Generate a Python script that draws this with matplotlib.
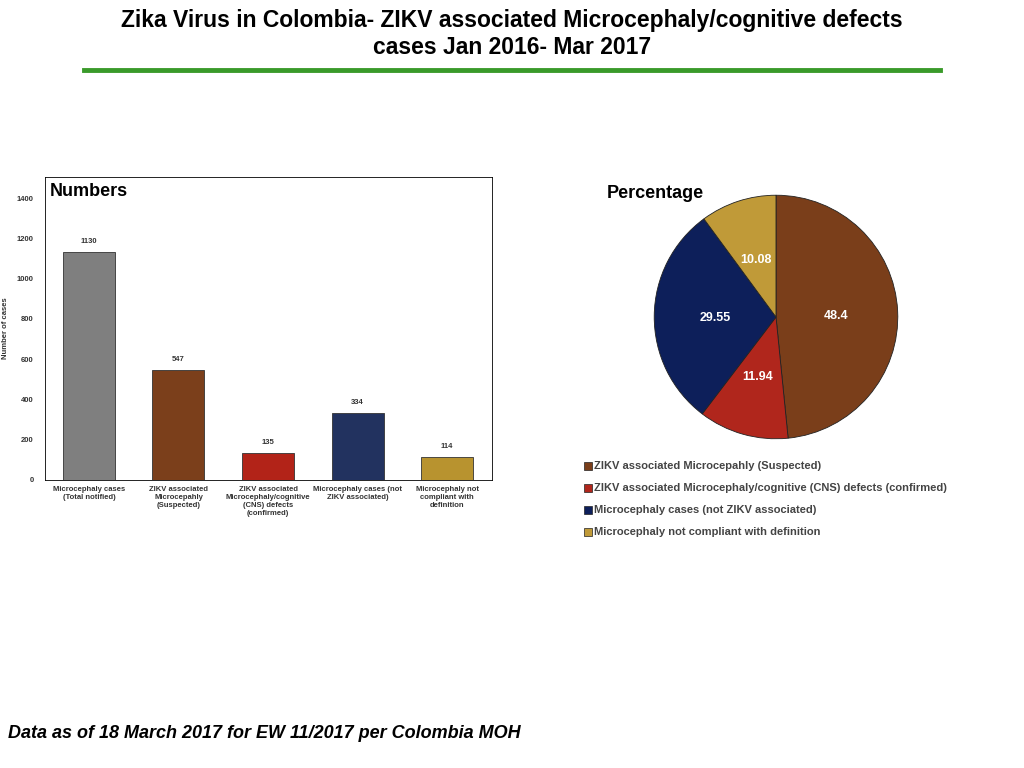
import matplotlib.pyplot as plt
from matplotlib.patches import Rectangle

plt.rcParams['font.family'] = ['Liberation Sans', 'DejaVu Sans']

bar_labels = ['Microcephaly cases\n(Total notified)', 'ZIKV associated\nMicrocepahly\n(Suspected)',
              'ZIKV associated\nMicrocephaly/cognitive\n(CNS) defects\n(confirmed)',
              'Microcephaly cases (not\nZIKV associated)', 'Microcephaly not\ncompliant with\ndefinition']
bar_values = [1130, 547, 135, 334, 114]
bar_colors = ['#7f7f7f', '#7b3f1b', '#b22318', '#22325f', '#b8932f']

pie_labels = ['ZIKV associated Microcepahly (Suspected)',
              'ZIKV associated Microcephaly/cognitive (CNS) defects (confirmed)',
              'Microcephaly cases (not ZIKV associated)',
              'Microcephaly not compliant with definition']
pie_values = [48.4, 11.94, 29.55, 10.08]
pie_colors = ['#7a3e1a', '#b0261c', '#0d1f5a', '#c09a38']

W, H = 1024, 768
fig = plt.figure(figsize=(W / 100, H / 100), dpi=100)

fig.text(0.5, 1 - 20 / H, 'Zika Virus in Colombia- ZIKV associated Microcephaly/cognitive defects',
         ha='center', va='center', fontsize=16.5, fontweight='bold')
fig.text(0.5, 1 - 47 / H, 'cases Jan 2016- Mar 2017', ha='center', va='center', fontsize=16.5, fontweight='bold')
fig.add_artist(plt.Line2D([84 / W, 940 / W], [1 - 70 / H, 1 - 70 / H], color='#3a9a2a', lw=3.5))
fig.text(8 / W, 1 - 733 / H, 'Data as of 18 March 2017 for EW 11/2017 per Colombia MOH',
         ha='left', va='center', fontsize=13, fontweight='bold', style='italic')

# bar chart
ax = fig.add_axes([45 / W, 1 - 480 / H, 447 / W, 303 / H])
x = range(len(bar_values))
ax.bar(x, bar_values, width=0.58, color=bar_colors, edgecolor='#333333', linewidth=0.6)
for i, v in zip(x, bar_values):
    ax.text(i, v + 35, str(v), ha='center', va='bottom', fontsize=5.5, fontweight='bold', color='#333333')
ax.set_xlim(-0.49, 4.5)
ax.set_ylim(0, 1505)
ax.set_yticks(range(0, 1401, 200))
ax.tick_params(axis='y', labelsize=5.5, length=0, pad=8)
ax.set_xticks(list(x))
ax.set_xticklabels(bar_labels, fontsize=5.5, fontweight='bold', color='#333333')
ax.tick_params(axis='x', length=0, pad=4)
for lbl in ax.get_yticklabels():
    lbl.set_fontweight('bold')
    lbl.set_color('#333333')
ax.set_ylabel('Number of cases', fontsize=5.5, fontweight='bold', color='#333333', labelpad=6)
ax.text(0.01, 0.98, 'Numbers', transform=ax.transAxes, ha='left', va='top', fontsize=13, fontweight='bold')
for s in ax.spines.values():
    s.set_linewidth(0.6)

# pie chart
cx, cy, r = 776, 317, 123
pax = fig.add_axes([(cx - r) / W, 1 - (cy + r) / H, 2 * r / W, 2 * r / H])
wedges, _ = pax.pie(pie_values, colors=pie_colors, startangle=90, counterclock=False,
                    wedgeprops=dict(edgecolor='#222222', linewidth=0.6))
pax.set_aspect('auto')
pax.set_xlim(-1.01, 1.01)
pax.set_ylim(-1.01, 1.01)
label_pos = [(836, 316), (758, 377), (715, 318), (756, 260)]
for (px, py), v in zip(label_pos, pie_values):
    fig.text(px / W, 1 - py / H, f'{v:g}', ha='center', va='center', fontsize=9,
             fontweight='bold', color='white')
fig.text(655 / W, 1 - 193 / H, 'Percentage', ha='center', va='center', fontsize=13, fontweight='bold')

# legend
for i, (lab, col) in enumerate(zip(pie_labels, pie_colors)):
    y = 466 + 22 * i
    fig.add_artist(Rectangle((584 / W, 1 - (y + 4) / H), 8 / W, 8 / H, facecolor=col,
                             edgecolor='#222222', linewidth=0.5))
    fig.text(594 / W, 1 - y / H, lab, ha='left', va='center', fontsize=8,
             fontweight='bold', color='#444444')

fig.savefig('out.png', dpi=100)
